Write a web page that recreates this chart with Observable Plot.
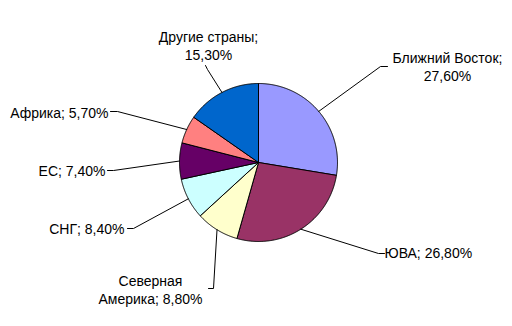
<!DOCTYPE html>
<html>
<head>
<meta charset="utf-8">
<script src="https://cdn.jsdelivr.net/npm/d3@7"></script>
<script src="https://cdn.jsdelivr.net/npm/@observablehq/plot@0.6"></script>
<style>
  html, body { margin: 0; padding: 0; background: #fff; }
  #chart { width: 512px; height: 326px; }
</style>
</head>
<body>
<div id="chart"></div>
<script>
// ---- data ----
const regions = ["Ближний Восток", "ЮВА", "Северная Америка", "СНГ", "ЕС", "Африка", "Другие страны"];
const shares = [27.6, 26.8, 8.8, 8.4, 7.4, 5.7, 15.3];
const labelTexts = [
  "Ближний Восток;\n27,60%",
  "ЮВА; 26,80%",
  "Северная\nАмерика; 8,80%",
  "СНГ; 8,40%",
  "ЕС; 7,40%",
  "Африка; 5,70%",
  "Другие страны;\n15,30%"
];
const sliceColors = ["#9999FF", "#993366", "#FFFFCC", "#CCFFFF", "#660066", "#FF8080", "#0066CC"];

// ---- layout (pixel offsets from pie centre, y down) ----
const R = 79; // pie radius in px
const leaderElbow = [[122, -96], [120, 91], [-45, 126], [-125, 66], [-145, 8], [-141, -51], [-51, -93]];
const leaderEnd   = [[129, -96], [126, 91], [-50, 126], [-131, 66], [-151, 8], [-148, -51], [-53, -97]];
const textPos     = [[189, -82], [126, 95.5], [-108, 141], [-134, 71], [-153, 13.5], [-150, -45], [-50, -103]];
const textAnchor  = ["middle", "start", "middle", "end", "end", "end", "middle"];

// ---- build ----
const data = regions.map((r, i) => ({region: r, share: shares[i], text: labelTexts[i]}));
const arcs = d3.pie().sort(null).value(d => d.share)(data);

const slicePts = [];
arcs.forEach(a => {
  const r = a.data.region;
  slicePts.push({region: r, x: 0, y: 0});
  const n = Math.max(2, Math.ceil((a.endAngle - a.startAngle) / (Math.PI / 360)));
  for (let k = 0; k <= n; k++) {
    const t = a.startAngle + (a.endAngle - a.startAngle) * k / n;
    slicePts.push({region: r, x: Math.sin(t), y: Math.cos(t)});
  }
  slicePts.push({region: r, x: 0, y: 0});
});

const leaderPts = [];
arcs.forEach((a, i) => {
  const m = (a.startAngle + a.endAngle) / 2;
  const r = a.data.region;
  leaderPts.push({region: r, x: Math.sin(m), y: Math.cos(m)});
  leaderPts.push({region: r, x: leaderElbow[i][0] / R, y: -leaderElbow[i][1] / R});
  leaderPts.push({region: r, x: leaderEnd[i][0] / R, y: -leaderEnd[i][1] / R});
});

const labels = data.map((d, i) => ({
  text: d.text, x: textPos[i][0] / R, y: -textPos[i][1] / R, anchor: textAnchor[i]
}));

const W = 512, H = 326, cx = 258, cy = 162;

const textMarks = ["start", "middle", "end"].map(anc =>
  Plot.text(labels.filter(l => l.anchor === anc), {
    x: "x", y: "y", text: "text",
    textAnchor: anc, lineAnchor: "bottom", lineHeight: 18 / 14,
    fontSize: 14, fill: "#000"
  })
);

const chart = Plot.plot({
  width: W, height: H,
  margin: 0,
  style: {fontFamily: "Arial, 'Liberation Sans', sans-serif", fontSize: "14px", background: "#fff"},
  x: {domain: [-cx / R, (W - cx) / R], axis: null},
  y: {domain: [-(H - cy) / R, cy / R], axis: null},
  color: {domain: regions, range: sliceColors},
  marks: [
    Plot.line(slicePts, {x: "x", y: "y", z: "region", fill: "region", stroke: "#000", strokeWidth: 1, curve: "linear"}),
    Plot.line(leaderPts, {x: "x", y: "y", z: "region", stroke: "#000", strokeWidth: 1}),
    ...textMarks
  ]
});
document.getElementById("chart").appendChild(chart);
</script>
</body>
</html>
